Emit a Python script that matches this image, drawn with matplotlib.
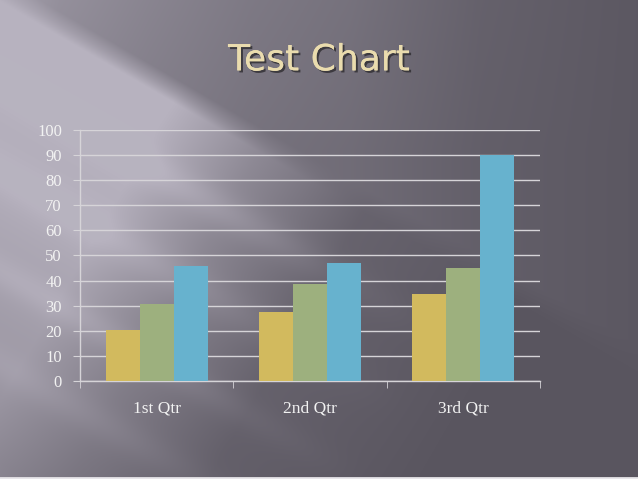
import numpy as np
import matplotlib.pyplot as plt
from matplotlib import patheffects as pe
from matplotlib.lines import Line2D

# data
categories = ["1st Qtr", "2nd Qtr", "3rd Qtr"]
series1 = [20.4, 27.4, 34.6]
series2 = [30.6, 38.6, 45.0]
series3 = [45.9, 46.9, 90.0]
colors = ["#d2ba5e", "#9db07e", "#67b2ce"]

W, H = 638, 479
fig = plt.figure(figsize=(W / 100, H / 100), dpi=100)

# background: dark grey, light band from the upper left, soft diagonal streaks
bg = fig.add_axes([0, 0, 1, 1])
yy, xx = np.mgrid[0:H, 0:W].astype(float)
a = np.deg2rad(30)
u = xx * np.cos(a) + yy * np.sin(a)
v = -xx * np.sin(a) + yy * np.cos(a)
f = np.interp(u, [0, 200, 300, 420, 600], [1.0, 1.0, 0.55, 0.14, 0.0])
g = np.interp(v, [-9, 0, 150, 250, 400], [0.95, 1.0, 0.95, 0.8, 0.6])
band = f * g
top = np.interp(xx, [0, 60, 150, 250, 350, 480, 638], [0.8, 0.62, 0.5, 0.38, 0.3, 0.12, 0.02])
top *= np.interp(yy, [0, 150], [1.0, 0.8])
w = np.clip((v + 20) / 22, 0, 1)
k = w * band + (1 - w) * top
b = np.deg2rad(30)
v2 = -xx * np.sin(b) + yy * np.cos(b)
streak = np.zeros_like(v2)
for c, amp, sw in [(70, 0.16, 18), (150, 0.12, 20), (235, 0.14, 16), (315, 0.10, 18)]:
    streak += amp * np.exp(-((v2 - c) / sw) ** 2)
streak *= np.interp(u, [0, 300, 550], [0.5, 1.0, 0.0])
k = np.clip(k + streak, 0, 1)[..., None]
dark = np.array([90, 86, 96]) / 255
light = np.array([184, 179, 192]) / 255
img = dark + (light - dark) * k
bg.imshow(img, extent=[0, 1, 0, 1], aspect="auto", origin="upper")
bg.set_axis_off()
fig.add_artist(Line2D([0, 1], [0.003, 0.003], color="#e8e6ea", lw=2,
                      transform=fig.transFigure))

# title
fig.text(0.5, 0.874, "Test Chart", ha="center", va="center",
         fontsize=26, color="#eadcae", family="DejaVu Sans",
         path_effects=[pe.withSimplePatchShadow(offset=(1.5, -1.5),
                                               shadow_rgbFace="#2e2c30", alpha=0.8),
                       pe.Normal()])

# chart
ax = fig.add_axes([0.1254, 0.2046, 0.721, 0.524])
ax.patch.set_alpha(0)
x = np.arange(len(categories))
bw = 1 / 4.5
for i, (vals, c) in enumerate(zip([series1, series2, series3], colors)):
    ax.bar(x + (i - 1) * bw, vals, width=bw, color=c, zorder=3)

ax.set_xlim(-0.5, 2.5)
ax.set_ylim(0, 100)
ax.set_yticks(range(0, 101, 10))
ax.yaxis.grid(True, color="#d6d4d8", lw=1, zorder=0)
ax.set_xticks(x)
ax.set_xticklabels(categories)
ax.set_xticks([-0.5, 0.5, 1.5, 2.5], minor=True)
ax.tick_params(axis="x", which="major", length=0, pad=14)
ax.tick_params(axis="x", which="minor", length=5, color="#d6d4d8", direction="out")
ax.tick_params(axis="y", length=5, color="#d6d4d8", pad=8)
for lab in ax.get_xticklabels():
    lab.set_family("Liberation Serif")
    lab.set_fontsize(12.5)
    lab.set_color("#f2f2f2")
for lab in ax.get_yticklabels():
    lab.set_family("Liberation Serif")
    lab.set_fontsize(12)
    lab.set_color("#f2f2f2")
for s in ["top", "right"]:
    ax.spines[s].set_visible(False)
for s in ["left", "bottom"]:
    ax.spines[s].set_color("#d6d4d8")
    ax.spines[s].set_linewidth(1)

fig.savefig("out.png", dpi=100)
